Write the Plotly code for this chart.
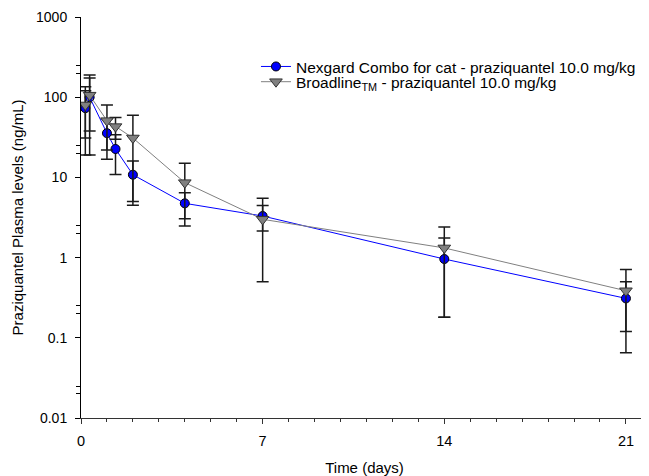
import plotly.graph_objects as go

# ---- data ----
time_days = [0.167, 0.333, 1, 1.33, 2, 4, 7, 14, 21]

nexgard = [73, 100, 35.6, 22.6, 10.8, 4.75, 3.3, 0.96, 0.31]
nexgard_upper = [135, 173, 54, 34, 16, 6.45, 4.45, 1.75, 0.5]
nexgard_lower = [31, 38, 16.8, 10.9, 5.0, 3.05, 2.15, 0.18, 0.12]

broadline = [80, 106, 51, 43, 31, 8.6, 3.0, 1.32, 0.386]
broadline_upper = [120, 189, 80, 56, 59.5, 15, 5.5, 2.4, 0.71]
broadline_lower = [19, 19, 22, 30, 4.5, 2.48, 0.5, 0.18, 0.065]

x_ticks = [0, 7, 14, 21]
y_ticks = [0.01, 0.1, 1, 10, 100, 1000]
y_tick_labels = ["0.01", "0.1", "1", "10", "100", "1000"]

name_nexgard = "Nexgard Combo for cat - praziquantel 10.0 mg/kg"
name_broadline = "Broadline<sub>TM</sub> - praziquantel 10.0 mg/kg"

FONT = "Arial, Liberation Sans, Helvetica, sans-serif"


def plus(vals, up):
    return [u - v for u, v in zip(up, vals)]


def minus(vals, lo):
    return [v - l for v, l in zip(vals, lo)]


fig = go.Figure()

fig.add_trace(go.Scatter(
    x=time_days, y=nexgard, name=name_nexgard, mode="lines+markers",
    legend="legend",
    line=dict(color="#0000FF", width=1),
    marker=dict(symbol="circle", size=9, color="#0000FF",
                line=dict(color="#000000", width=1)),
    error_y=dict(type="data", symmetric=False,
                 array=plus(nexgard, nexgard_upper),
                 arrayminus=minus(nexgard, nexgard_lower),
                 color="#1a1a1a", thickness=1.5, width=6),
))

fig.add_trace(go.Scatter(
    x=time_days, y=broadline, name=name_broadline, mode="lines+markers",
    legend="legend2",
    line=dict(color="#808080", width=1),
    marker=dict(symbol="triangle-down", size=11, color="#808080",
                line=dict(color="#333333", width=1)),
    error_y=dict(type="data", symmetric=False,
                 array=plus(broadline, broadline_upper),
                 arrayminus=minus(broadline, broadline_lower),
                 color="#1a1a1a", thickness=1.5, width=6),
))

minor_y = []
for e in range(-2, 3):
    minor_y += [2 * 10 ** e, 2.5 * 10 ** e]

legend_style = dict(xanchor="left", yanchor="top", bgcolor="rgba(0,0,0,0)",
                    font=dict(family=FONT, size=15.5), itemwidth=30)

# the page body adds an 8 px offset, so the figure is sized to fit the window
fig.update_layout(
    width=641, height=468,
    margin=dict(l=73, r=1, t=9, b=58),
    paper_bgcolor="white", plot_bgcolor="white",
    font=dict(family=FONT, size=14, color="#000000"),
    showlegend=True,
    legend=dict(x=0.3086, y=0.918, **legend_style),
    legend2=dict(x=0.3086, y=0.88, **legend_style),
    xaxis=dict(
        range=[0, 21.85], tickmode="array", tickvals=x_ticks,
        ticks="outside", ticklen=5, tickwidth=1, tickcolor="#333333",
        showline=True, linecolor="#333333", linewidth=1,
        showgrid=False, zeroline=False, automargin=False,
        tickfont=dict(family=FONT, size=14.5),
        ticklabelstandoff=5,
        minor=dict(tickmode="linear", tick0=0, dtick=1, ticks="outside",
                   ticklen=3, tickcolor="#333333", showgrid=False),
        title=dict(text="Time (days)", font=dict(family=FONT, size=15),
                   standoff=17),
    ),
    yaxis=dict(
        type="log", range=[-2, 3], tickmode="array",
        tickvals=y_ticks, ticktext=y_tick_labels,
        ticks="outside", ticklen=5, tickwidth=1, tickcolor="#000000",
        showline=True, linecolor="#000000", linewidth=1,
        showgrid=False, zeroline=False, automargin=False,
        tickfont=dict(family=FONT, size=14),
        ticklabelstandoff=5,
        minor=dict(tickmode="array", tickvals=minor_y, ticks="outside",
                   ticklen=4, tickcolor="#000000", showgrid=False),
        title=dict(text="Praziquantel Plasma levels (ng/mL)",
                   font=dict(family=FONT, size=15), standoff=8),
    ),
)

fig.write_html("out.html")
